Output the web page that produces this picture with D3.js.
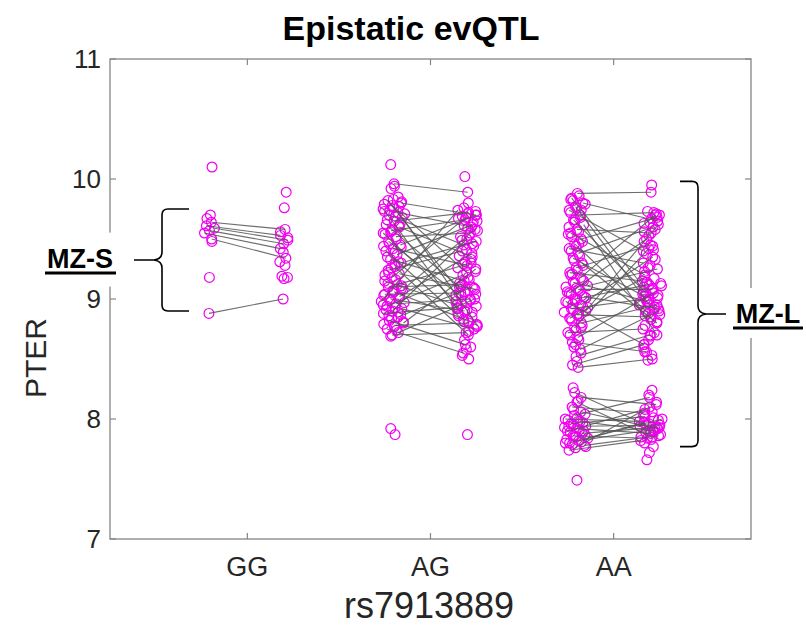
<!DOCTYPE html>
<html>
<head>
<meta charset="utf-8">
<script src="https://cdn.jsdelivr.net/npm/d3@7"></script>
<style>
  body { margin: 0; background: #fff; }
  svg { display: block; }
  text { font-family: "Liberation Sans", Arial, sans-serif; }
</style>
</head>
<body>
<svg id="chart" width="806" height="627"></svg>
<script>
// Genotype groups on the x axis and y-axis ticks
const genotypes = ["GG", "AG", "AA"];
const yTicks = [7, 8, 9, 10, 11];

// GG: twin pairs (twin 1 -> twin 2) and unpaired twins
const ggPairT1 = [9.64, 9.61, 9.59, 9.57, 9.55, 9.50, 8.88];
const ggPairT2 = [9.58, 9.53, 9.49, 9.46, 9.42, 9.34, 9.00];
const ggSoloT1 = [10.10, 9.70, 9.67, 9.48, 9.18];
const ggSoloT2 = [9.89, 9.76, 9.56, 9.51, 9.39, 9.31, 9.28, 9.19, 9.18, 9.17];

// AG
const agPairT1 = [9.96, 9.82, 9.80, 9.78, 9.75, 9.72, 9.70, 9.68, 9.65, 9.62, 9.60, 9.57, 9.55, 9.52, 9.48, 9.45,
  9.42, 9.40, 9.37, 9.33, 9.30, 9.27, 9.24, 9.21, 9.18, 9.15, 9.12, 9.10, 9.08, 9.06, 9.04, 9.02, 9.00, 8.98,
  8.96, 8.94, 8.92, 8.90, 8.88, 8.85, 8.82, 8.80, 8.78, 8.75, 8.72, 8.70];
const agPairT2 = [9.89, 9.05, 9.70, 9.22, 8.92, 9.60, 9.45, 8.78, 9.72, 9.10, 9.35, 9.66, 8.98, 9.55, 9.02, 9.70,
  9.28, 8.86, 9.62, 9.15, 9.48, 8.70, 9.40, 9.08, 9.68, 8.95, 9.30, 9.12, 9.58, 8.82, 9.05, 9.38, 8.90, 9.74,
  9.00, 9.20, 8.75, 9.50, 8.93, 9.10, 8.62, 9.25, 8.80, 8.55, 9.00, 8.72];
const agSoloT1 = [10.12, 9.94, 9.92, 9.85, 9.83, 9.79, 9.77, 9.74, 9.71, 9.69, 9.66, 9.63, 9.58, 9.54, 9.50, 9.46,
  9.43, 9.38, 9.35, 9.31, 9.26, 9.20, 9.16, 9.13, 9.09, 9.07, 9.03, 9.01, 8.99, 8.97, 8.93, 8.91, 8.87, 8.84,
  8.79, 8.74, 8.69, 9.81, 9.76, 9.73, 9.61, 9.56, 9.44, 9.29, 9.22, 9.11, 9.05, 8.95, 8.89, 8.86, 8.81, 8.77,
  7.92, 7.87];
const agSoloT2 = [10.02, 9.80, 9.76, 9.73, 9.71, 9.67, 9.64, 9.61, 9.57, 9.53, 9.49, 9.44, 9.41, 9.36, 9.33, 9.29,
  9.23, 9.18, 9.13, 9.09, 9.06, 9.03, 8.99, 8.96, 8.94, 8.91, 8.88, 8.85, 8.81, 8.77, 8.73, 8.66, 8.60, 8.58,
  8.53, 8.50, 9.69, 9.65, 9.59, 9.52, 9.46, 9.31, 9.26, 9.16, 9.11, 9.04, 8.97, 8.92, 8.89, 8.83, 8.79, 7.87];

// AA (upper and lower clusters)
const aaPairT1 = [9.88, 9.84, 9.80, 9.77, 9.74, 9.70, 9.66, 9.62, 9.58, 9.55, 9.50, 9.46, 9.42, 9.38, 9.34, 9.30,
  9.26, 9.22, 9.18, 9.14, 9.11, 9.08, 9.05, 9.02, 9.00, 8.98, 8.95, 8.92, 8.90, 8.87, 8.84, 8.80, 8.76, 8.72,
  8.68, 8.64, 8.58, 8.52, 8.45, 8.43,
  8.22, 8.18, 8.14, 8.10, 8.06, 8.03, 8.00, 7.98, 7.96, 7.94, 7.92, 7.90, 7.88, 7.86, 7.84, 7.82, 7.80, 7.78,
  7.76, 7.74];
const aaPairT2 = [9.89, 9.10, 9.65, 8.95, 9.40, 9.72, 9.05, 8.70, 9.55, 9.20, 9.68, 8.88, 9.30, 9.60, 9.02, 8.80,
  9.45, 9.15, 9.70, 8.98, 9.25, 9.08, 9.50, 8.92, 9.12, 8.62, 9.35, 9.00, 9.62, 8.85, 9.18, 8.95, 9.42, 8.75,
  9.05, 8.56, 8.90, 8.70, 8.62, 8.50,
  7.95, 8.12, 7.85, 8.05, 7.92, 8.18, 7.98, 7.90, 8.02, 7.95, 7.88, 8.08, 7.93, 7.84, 8.00, 7.91, 7.97, 7.86,
  8.10, 7.82];
const aaSoloT1 = [9.86, 9.82, 9.79, 9.76, 9.72, 9.68, 9.64, 9.60, 9.56, 9.52, 9.48, 9.44, 9.40, 9.36, 9.32, 9.28,
  9.24, 9.20, 9.16, 9.13, 9.10, 9.07, 9.04, 9.01, 8.99, 8.97, 8.94, 8.91, 8.89, 8.86, 8.82, 8.78, 8.74, 8.70,
  8.66, 8.60, 8.55, 8.48, 9.83, 9.74, 9.66, 9.54, 9.46, 9.21, 9.15, 9.09, 9.06, 9.03, 8.96, 8.93, 8.88, 8.84,
  8.76, 8.62,
  8.26, 8.15, 8.08, 8.04, 8.01, 7.99, 7.97, 7.95, 7.93, 7.91, 7.89, 7.87, 7.85, 7.83, 7.81, 7.79, 7.77,
  7.98, 7.94, 7.90, 7.86, 7.80, 7.49];
const aaSoloT2 = [9.95, 9.73, 9.70, 9.67, 9.63, 9.58, 9.53, 9.48, 9.44, 9.38, 9.33, 9.28, 9.23, 9.17, 9.14, 9.11,
  9.09, 9.06, 9.03, 9.00, 8.97, 8.93, 8.90, 8.87, 8.83, 8.78, 8.72, 8.66, 8.59, 8.53, 8.49, 9.71, 9.64, 9.56,
  9.41, 9.26, 9.13, 9.07, 9.04, 9.01, 8.98, 8.95, 8.91, 8.86, 8.81, 8.69, 8.56,
  8.24, 8.20, 8.14, 8.06, 8.03, 7.99, 7.96, 7.94, 7.92, 7.89, 7.87, 7.83, 7.80, 7.77, 7.72, 7.66,
  8.01, 7.97, 7.93, 7.90, 7.85];

// Bracket spans (PTER units) for the two annotated groups
const mzsSpan = [8.90, 9.325, 9.75];
const mzlSpan = [7.77, 8.875, 9.98];

const groups = [
  { t1: ggPairT1, t2: ggPairT2, s1: ggSoloT1, s2: ggSoloT2 },
  { t1: agPairT1, t2: agPairT2, s1: agSoloT1, s2: agSoloT2 },
  { t1: aaPairT1, t2: aaPairT2, s1: aaSoloT1, s2: aaSoloT2 }
];

const svg = d3.select("#chart");
const plotL = 110, plotR = 751, plotT = 59, plotB = 539;
const x = d3.scaleLinear().domain([0.25, 3.75]).range([plotL, plotR]);
const y = d3.scaleLinear().domain([7, 11]).range([plotB, plotT]);

const AXIS = "#858585", LABEL = "#262626", MAG = "#f000f0", LINE = "#555555";

// Spread points horizontally, wider where the column is crowded
function spread(values) {
  return values.map((v, i) => {
    const n = values.filter(w => Math.abs(w - v) < 0.06).length;
    const half = Math.min(12, 1.5 + n * 1.0);
    const u = (((i + 1) * 0.6180339887) % 1) * 2 - 1;
    return u * half;
  });
}

const pointLayer = svg.append("g");
const lineLayer = svg.append("g");

groups.forEach((g, gi) => {
  const c = gi + 1;
  const col1 = g.t1.concat(g.s1);
  const col2 = g.t2.concat(g.s2);
  const j1 = spread(col1), j2 = spread(col2);
  const cx1 = x(c - 0.205), cx2 = x(c + 0.2);
  const pts = col1.map((v, i) => ({ px: cx1 + j1[i], py: y(v) }))
    .concat(col2.map((v, i) => ({ px: cx2 + j2[i], py: y(v) })));

  pointLayer.selectAll(null).data(pts).enter().append("circle")
    .attr("cx", d => d.px).attr("cy", d => d.py).attr("r", 4.9)
    .attr("fill", "none").attr("stroke", MAG).attr("stroke-width", 1.2);

  lineLayer.selectAll(null).data(g.t1.map((v, i) => i)).enter().append("line")
    .attr("x1", i => cx1 + j1[i]).attr("y1", i => y(g.t1[i]))
    .attr("x2", i => cx2 + j2[i]).attr("y2", i => y(g.t2[i]))
    .attr("stroke", LINE).attr("stroke-width", 1.15).attr("stroke-opacity", 0.85);
});

// Axes box with inward ticks
const axes = svg.append("g");
axes.append("rect").attr("x", plotL).attr("y", plotT).attr("width", plotR - plotL).attr("height", plotB - plotT)
  .attr("fill", "none").attr("stroke", AXIS).attr("stroke-width", 1.3);
yTicks.forEach(t => {
  axes.append("line").attr("x1", plotL).attr("x2", plotL + 6).attr("y1", y(t)).attr("y2", y(t)).attr("stroke", AXIS).attr("stroke-width", 1.2);
  axes.append("line").attr("x1", plotR).attr("x2", plotR - 6).attr("y1", y(t)).attr("y2", y(t)).attr("stroke", AXIS).attr("stroke-width", 1.2);
  axes.append("text").attr("x", plotL - 9).attr("y", y(t)).attr("dy", "0.36em")
    .attr("text-anchor", "end").attr("font-size", 26).attr("fill", LABEL).text(t);
});
genotypes.forEach((gname, i) => {
  const px = x(i + 1);
  axes.append("line").attr("x1", px).attr("x2", px).attr("y1", plotB).attr("y2", plotB - 6).attr("stroke", AXIS).attr("stroke-width", 1.2);
  axes.append("line").attr("x1", px).attr("x2", px).attr("y1", plotT).attr("y2", plotT + 6).attr("stroke", AXIS).attr("stroke-width", 1.2);
  axes.append("text").attr("x", px).attr("y", plotB + 37)
    .attr("text-anchor", "middle").attr("font-size", 27).attr("fill", LABEL).text(gname);
});

// Titles
svg.append("text").attr("x", 411).attr("y", 40).attr("text-anchor", "middle")
  .attr("font-size", 34).attr("font-weight", "bold").attr("fill", "#000").text("Epistatic evQTL");
svg.append("text").attr("x", 429).attr("y", 618).attr("text-anchor", "middle")
  .attr("font-size", 36).attr("fill", LABEL).text("rs7913889");
svg.append("text").attr("transform", "translate(46,358) rotate(-90)").attr("text-anchor", "middle")
  .attr("font-size", 30).attr("fill", LABEL).text("PTER");

// Curly brace: vertical spine at sx, tip at tx, serifs ending at ex
function brace(sx, tx, ex, yTop, yMid, yBot) {
  const dir = Math.sign(ex - sx), r = 6, dt = Math.sign(tx - sx);
  return `M${ex},${yTop} L${sx + dir * r},${yTop} Q${sx},${yTop} ${sx},${yTop + r}` +
    ` L${sx},${yMid - 8} Q${sx},${yMid - 1} ${sx + dt * 8},${yMid} L${tx},${yMid}` +
    ` M${tx},${yMid} L${sx + dt * 8},${yMid} Q${sx},${yMid + 1} ${sx},${yMid + 8}` +
    ` L${sx},${yBot - r} Q${sx},${yBot} ${sx + dir * r},${yBot} L${ex},${yBot}`;
}

const ann = svg.append("g");
// MZ-S label and brace
ann.append("rect").attr("x", 42).attr("y", y(9.32) - 28).attr("width", 78).attr("height", 54).attr("fill", "#fff");
ann.append("path").attr("d", brace(162, 134, 189, y(mzsSpan[2]), y(mzsSpan[1]), y(mzsSpan[0])))
  .attr("fill", "none").attr("stroke", "#000").attr("stroke-width", 1.6);
ann.append("text").attr("x", 80).attr("y", y(mzsSpan[1]) + 8).attr("text-anchor", "middle")
  .attr("font-size", 27).attr("font-weight", "bold").attr("fill", "#000").text("MZ-S");
ann.append("line").attr("x1", 45).attr("x2", 116).attr("y1", y(mzsSpan[1]) + 13).attr("y2", y(mzsSpan[1]) + 13)
  .attr("stroke", "#000").attr("stroke-width", 3);

// MZ-L label and brace
ann.append("rect").attr("x", 729).attr("y", y(mzlSpan[1]) - 26).attr("width", 77).attr("height", 50).attr("fill", "#fff");
ann.append("path").attr("d", brace(698, 726, 680, y(mzlSpan[2]), y(mzlSpan[1]), y(mzlSpan[0])))
  .attr("fill", "none").attr("stroke", "#000").attr("stroke-width", 1.6);
ann.append("text").attr("x", 768).attr("y", y(mzlSpan[1]) + 9).attr("text-anchor", "middle")
  .attr("font-size", 27).attr("font-weight", "bold").attr("fill", "#000").text("MZ-L");
ann.append("line").attr("x1", 733).attr("x2", 803).attr("y1", y(mzlSpan[1]) + 14).attr("y2", y(mzlSpan[1]) + 14)
  .attr("stroke", "#000").attr("stroke-width", 3);
</script>
</body>
</html>
